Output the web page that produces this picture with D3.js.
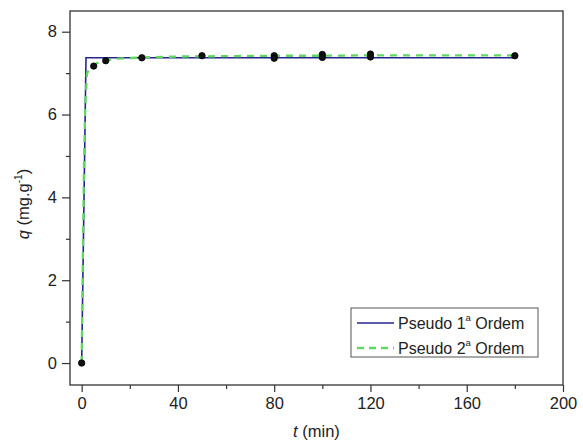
<!DOCTYPE html>
<html>
<head>
<meta charset="utf-8">
<script src="https://cdn.jsdelivr.net/npm/d3@7"></script>
<style>
  html, body { margin: 0; padding: 0; background: #fff; }
  svg text { font-family: "Liberation Sans", Arial, sans-serif; fill: #222; }
</style>
</head>
<body>
<svg id="chart" width="583" height="445"></svg>
<script>
// Experimental adsorption data: time (min) and adsorbed amount q (mg/g)
const expTime = [0, 5, 10, 25, 50, 80, 80, 100, 100, 120, 120, 180];
const expQ    = [0, 7.17, 7.30, 7.37, 7.42, 7.42, 7.36, 7.45, 7.38, 7.46, 7.39, 7.42];

// Pseudo first-order fit curve
const pfoTime = [0, 0.5, 1, 1.5, 1.8, 5, 10, 25, 50, 100, 180];
const pfoQ    = [0, 2.05, 4.1, 6.15, 7.37, 7.37, 7.37, 7.37, 7.37, 7.37, 7.37];

// Pseudo second-order fit curve
const psoTime = [0, 0.5, 1, 1.5, 2.2, 3, 5, 7.5, 10, 15, 25, 40, 60, 80, 100, 120, 150, 180];
const psoQ    = [0, 2.6, 4.9, 6.2, 6.99, 7.08, 7.20, 7.27, 7.31, 7.35, 7.38, 7.40, 7.41, 7.42, 7.42, 7.43, 7.43, 7.43];

// Axis ticks
const xMajor = [0, 40, 80, 120, 160, 200];
const xMinor = [20, 60, 100, 140, 180];
const yMajor = [0, 2, 4, 6, 8];
const yMinor = [1, 3, 5, 7];

const legendLabels = ["Pseudo 1", "Pseudo 2"];

const svg = d3.select("#chart");
const plotL = 70, plotR = 563, plotT = 11, plotB = 385;

const x = d3.scaleLinear().domain([-4.85, 200]).range([plotL, plotR]);
const y = d3.scaleLinear().domain([-0.53, 8.5]).range([plotB, plotT]);

const frameColor = "#333";

// Axes with outward ticks
const xAxis = svg.append("g").attr("transform", `translate(0,${plotB})`)
  .call(d3.axisBottom(x).tickValues(xMajor).tickSize(7).tickPadding(5).tickFormat(d3.format("d")));
const xMinorAxis = svg.append("g").attr("transform", `translate(0,${plotB})`)
  .call(d3.axisBottom(x).tickValues(xMinor).tickSize(4).tickFormat(""));
const yAxis = svg.append("g").attr("transform", `translate(${plotL},0)`)
  .call(d3.axisLeft(y).tickValues(yMajor).tickSize(8).tickPadding(5).tickFormat(d3.format("d")));
const yMinorAxis = svg.append("g").attr("transform", `translate(${plotL},0)`)
  .call(d3.axisLeft(y).tickValues(yMinor).tickSize(4).tickFormat(""));

[xAxis, xMinorAxis, yAxis, yMinorAxis].forEach(g => {
  g.select(".domain").remove();
  g.selectAll(".tick line").attr("stroke", frameColor).attr("stroke-width", 1.2);
  g.selectAll(".tick text").style("font-size", "16.5px").attr("fill", "#222");
});

// Plot frame
svg.append("rect")
  .attr("x", plotL).attr("y", plotT)
  .attr("width", plotR - plotL).attr("height", plotB - plotT)
  .attr("fill", "none").attr("stroke", frameColor).attr("stroke-width", 1.3);

// Fit curves
const line = d3.line().x(d => x(d[0])).y(d => y(d[1]));
const pfo = pfoTime.map((t, i) => [t, pfoQ[i]]);
const pso = psoTime.map((t, i) => [t, psoQ[i]]);

svg.append("path").datum(pfo).attr("d", line)
  .attr("fill", "none").attr("stroke", "#26268c").attr("stroke-width", 1.6);
svg.append("path").datum(pso).attr("d", line)
  .attr("fill", "none").attr("stroke", "#5fd85f").attr("stroke-width", 2.3)
  .attr("stroke-dasharray", "7,6");

// Experimental points
svg.append("g").selectAll("circle")
  .data(expTime.map((t, i) => [t, expQ[i]]))
  .join("circle")
  .attr("cx", d => x(d[0])).attr("cy", d => y(d[1]))
  .attr("r", 3.2).attr("fill", "#111").attr("stroke", "#000").attr("stroke-width", 0.8);

// Axis titles
const yTitle = svg.append("text")
  .attr("transform", `translate(29,${(plotT + plotB) / 2 + 6}) rotate(-90)`)
  .attr("text-anchor", "middle").style("font-size", "16.5px");
yTitle.append("tspan").style("font-style", "italic").text("q");
yTitle.append("tspan").text(" (mg.g");
yTitle.append("tspan").attr("dy", -7).style("font-size", "10px").text("-1");
yTitle.append("tspan").attr("dy", 7).text(")");

const xTitle = svg.append("text")
  .attr("x", (plotL + plotR) / 2).attr("y", 437)
  .attr("text-anchor", "middle").style("font-size", "16.5px");
xTitle.append("tspan").style("font-style", "italic").text("t");
xTitle.append("tspan").text(" (min)");

// Legend
const lg = svg.append("g");
lg.append("rect").attr("x", 351).attr("y", 308).attr("width", 187).attr("height", 49)
  .attr("fill", "#fff").attr("stroke", "#555").attr("stroke-width", 1);
const legendStyles = [
  { color: "#26268c", width: 1.6, dash: null },
  { color: "#5fd85f", width: 2.3, dash: "7,5" }
];
legendLabels.forEach((lab, i) => {
  const cy = 323 + i * 25;
  lg.append("line").attr("x1", 357).attr("x2", 394).attr("y1", cy).attr("y2", cy)
    .attr("stroke", legendStyles[i].color).attr("stroke-width", legendStyles[i].width)
    .attr("stroke-dasharray", legendStyles[i].dash);
  const t = lg.append("text").attr("x", 398).attr("y", cy + 5.5).style("font-size", "16px");
  t.append("tspan").text(lab);
  t.append("tspan").attr("dy", -8).style("font-size", "9.5px").text("a");
  t.append("tspan").attr("dy", 8).text(" Ordem");
});
</script>
</body>
</html>
